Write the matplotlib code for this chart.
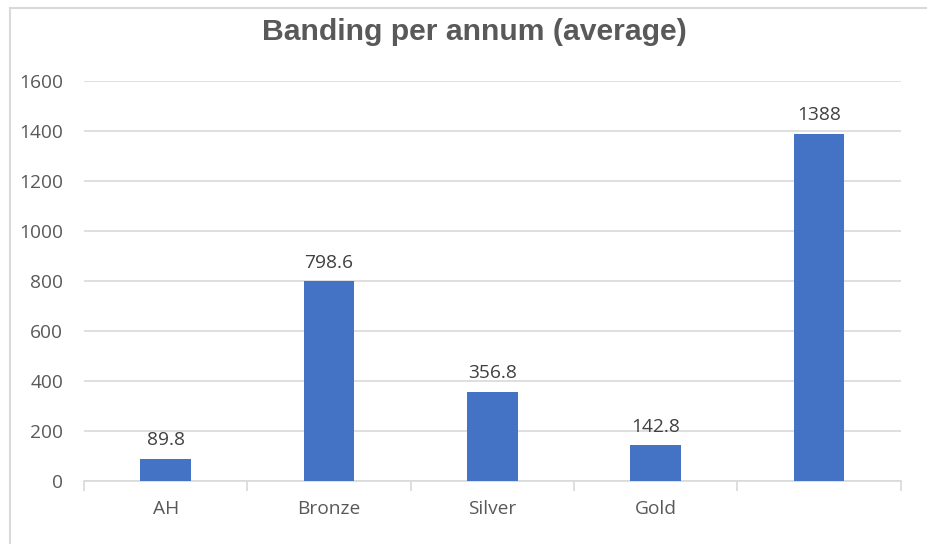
import numpy as np
from matplotlib import pyplot as plt
from matplotlib.lines import Line2D

categories = ['AH', 'Bronze', 'Silver', 'Gold', '']
values = [89.8, 798.6, 356.8, 142.8, 1388]
labels = ['89.8', '798.6', '356.8', '142.8', '1388']

fig = plt.figure(figsize=(9.27, 5.44), dpi=100)
ax = fig.add_axes([0.0906, 0.1158, 0.881, 0.7353])

x = np.arange(len(categories))
bars = ax.bar(x, values, width=0.31, color='#4472C4', zorder=3)

for xi, v, lab in zip(x, values, labels):
    ax.annotate(lab, (xi, v), xytext=(0, 7), textcoords='offset points',
                ha='center', va='bottom', fontsize=13.8, color='#404040',
                family='Open Sans')

ax.set_xlim(-0.5, len(categories) - 0.5)
ax.set_ylim(0, 1600)
ax.set_yticks(range(0, 1601, 200))
ax.grid(axis='y', color='#D9D9D9', linewidth=1.2, zorder=0)

ax.set_xticks(x)
ax.set_xticklabels(categories)
ax.set_xticks(np.arange(-0.5, len(categories)), minor=True)
ax.tick_params(axis='x', which='major', length=0, pad=14)
ax.tick_params(axis='x', which='minor', length=7, color='#D9D9D9', width=1.2)
ax.tick_params(axis='y', length=0, pad=15)
for lab in ax.get_xticklabels() + ax.get_yticklabels():
    lab.set_fontsize(13.8)
    lab.set_color('#595959')
    lab.set_family('Open Sans')

for s in ['top', 'right', 'left']:
    ax.spines[s].set_visible(False)
ax.spines['bottom'].set_color('#D9D9D9')
ax.spines['bottom'].set_linewidth(1.2)

fig.text(0.512, 0.942, 'Banding per annum (average)', ha='center', va='center',
         fontsize=21.7, fontweight='bold', color='#595959', family='Liberation Sans')

# chart border
fig.add_artist(Line2D([0.0108, 0.0108], [0, 0.985], transform=fig.transFigure,
                      color='#D9D9D9', linewidth=1.5))
fig.add_artist(Line2D([0.0108, 1.0], [0.985, 0.985], transform=fig.transFigure,
                      color='#D9D9D9', linewidth=1.5))

fig.savefig('out.png', dpi=100)
